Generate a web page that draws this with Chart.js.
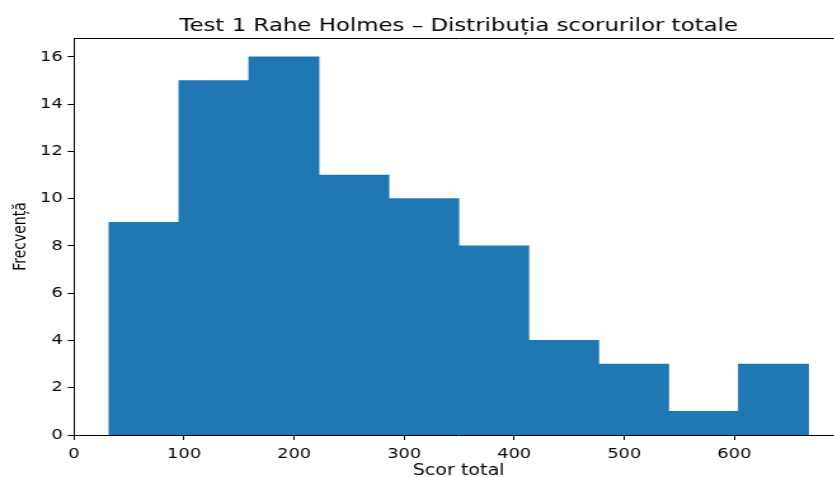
<!DOCTYPE html>
<html>
<head>
<meta charset="utf-8">
<script src="https://cdn.jsdelivr.net/npm/chart.js@4/dist/chart.umd.min.js"></script>
<style>
  html, body { margin: 0; padding: 0; background: #fff; overflow: hidden; }
  /* the reference picture is stretched sideways, so stretch ours too */
  #wrap { width: 664px; height: 477px; transform: scaleX(1.27); transform-origin: 0 0; }
</style>
</head>
<body>
<div id="wrap"><canvas id="hist" width="664" height="477"></canvas></div>
<script>
// histogram bin edges (Scor total) and counts per bin
const binEdges = [31.8, 95.4, 158.9, 222.5, 286.0, 349.6, 413.1, 476.7, 540.2, 603.8, 667.3];
const counts = [9, 15, 16, 11, 10, 8, 4, 3, 1, 3];
const xTicks = [0, 100, 200, 300, 400, 500, 600];
const yTicks = [0, 2, 4, 6, 8, 10, 12, 14, 16];

const points = counts.map((c, i) => ({ x: (binEdges[i] + binEdges[i + 1]) / 2, y: c }));

// right spine (falls just outside the window, like the reference)
const framePlugin = {
    id: 'frame',
    afterDraw(chart) {
        const { ctx, chartArea: a } = chart;
        ctx.save();
        ctx.strokeStyle = '#000';
        ctx.lineWidth = 1;
        ctx.beginPath();
        ctx.moveTo(a.right - 0.5, a.top);
        ctx.lineTo(a.right - 0.5, a.bottom);
        ctx.stroke();
        ctx.restore();
    }
};

const tickFont = { family: 'DejaVu Sans', size: 14 };

new Chart(document.getElementById('hist'), {
    type: 'bar',
    data: {
        datasets: [{
            data: points,
            backgroundColor: '#1f77b4',
            borderWidth: 0,
            inflateAmount: 0.4,
            barPercentage: 1,
            categoryPercentage: 1
        }]
    },
    options: {
        responsive: false,
        animation: false,
        layout: { padding: 0 },
        plugins: {
            legend: { display: false },
            tooltip: { enabled: false }
        },
        scales: {
            x: {
                type: 'linear',
                min: 0,
                max: 699,
                offset: false,
                afterBuildTicks: s => { s.ticks = xTicks.map(v => ({ value: v })); },
                afterFit: s => { s.height = 42; },
                ticks: { color: '#000', font: tickFont, padding: 6, maxRotation: 0, includeBounds: false },
                grid: { offset: false, drawOnChartArea: false, drawTicks: true, tickLength: 5, tickColor: '#000' },
                border: { color: '#000', width: 1 },
                title: {
                    display: true,
                    text: 'Scor total',
                    color: '#000',
                    font: { family: 'DejaVu Sans', size: 15, lineHeight: 1 },
                    padding: { top: 0, bottom: -1.5 }
                }
            },
            // top axis: carries the top spine and the title centred over the plot
            xTop: {
                type: 'linear',
                position: 'top',
                min: 0,
                max: 699,
                afterFit: s => { s.height = 38; },
                ticks: { display: false },
                grid: { drawOnChartArea: false, drawTicks: false },
                border: { color: '#000', width: 1 },
                title: {
                    display: true,
                    text: 'Test 1 Rahe Holmes \u2013 Distribu\u021bia scorurilor totale',
                    color: '#000',
                    font: { family: 'DejaVu Sans', size: 18, weight: 'normal', lineHeight: 1 },
                    padding: { top: 17, bottom: 0 }
                }
            },
            y: {
                min: 0,
                max: 16.8,
                afterBuildTicks: s => { s.ticks = yTicks.map(v => ({ value: v })); },
                afterFit: s => { s.width = 58.3; },
                ticks: { color: '#000', font: tickFont, padding: 4 },
                grid: { drawOnChartArea: false, drawTicks: true, tickLength: 5, tickColor: '#000' },
                border: { color: '#000', width: 1 },
                title: {
                    display: true,
                    text: 'Frecven\u021b\u0103',
                    color: '#000',
                    font: { family: 'DejaVu Sans', size: 14, lineHeight: 1 },
                    padding: { top: 9, bottom: 0 }
                }
            }
        }
    },
    plugins: [framePlugin]
});
</script>
</body>
</html>
